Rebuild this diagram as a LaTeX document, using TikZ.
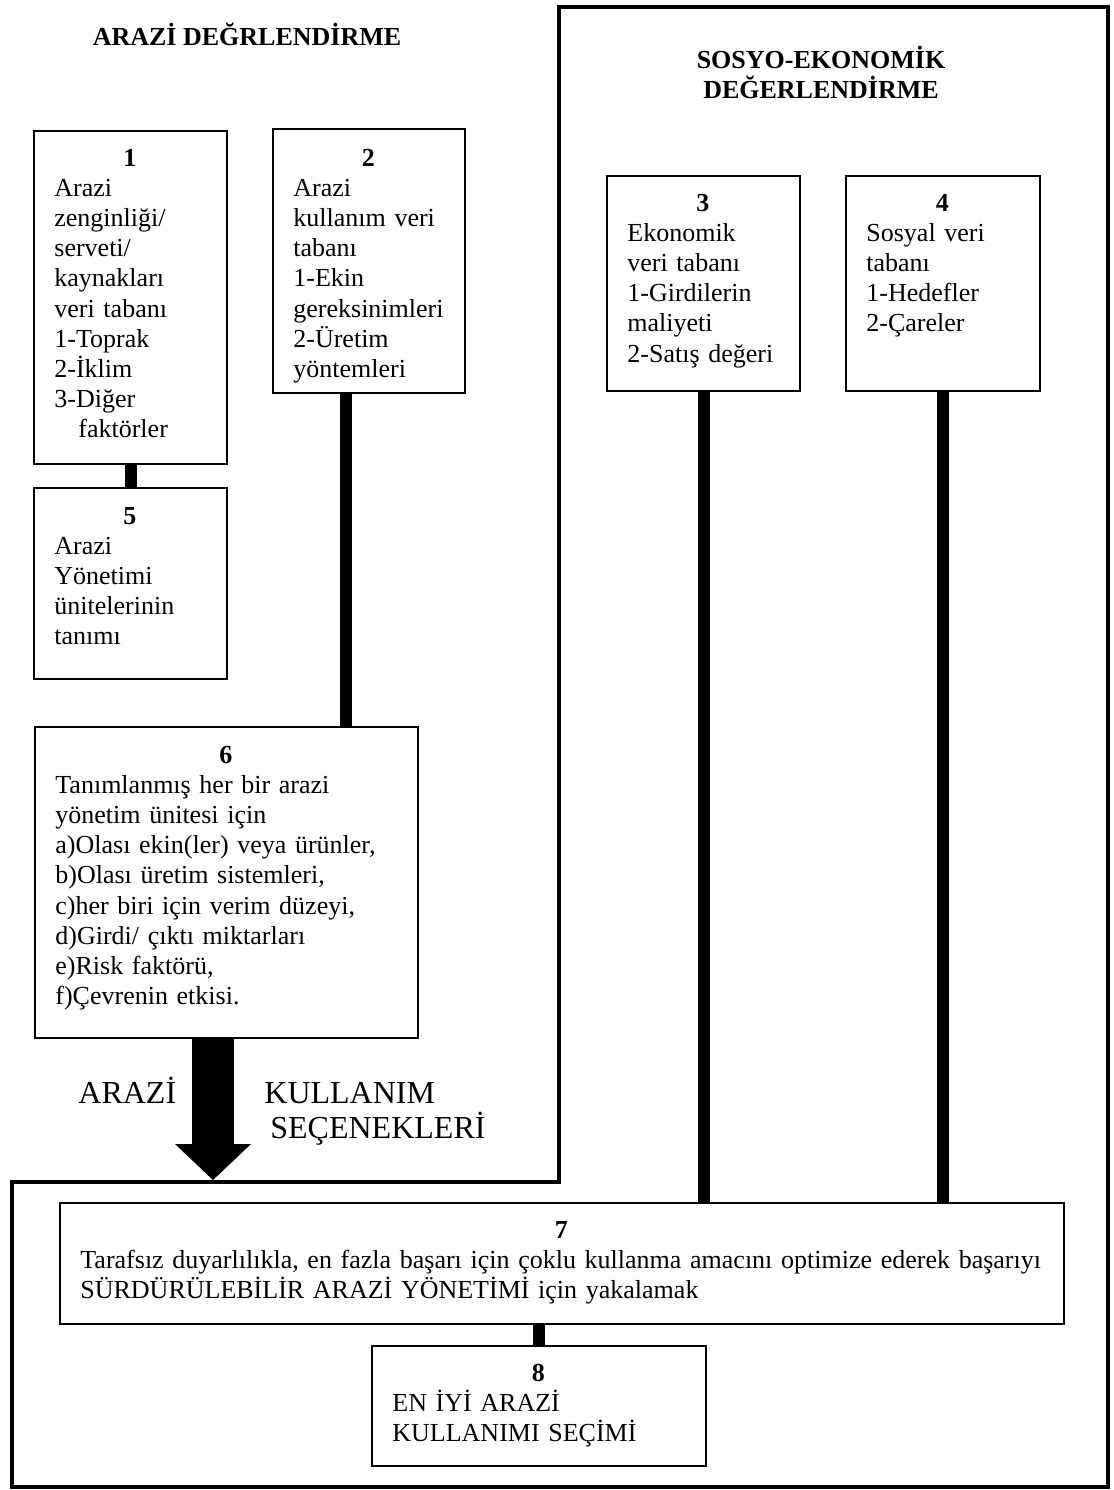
\documentclass[tikz,border=0pt]{standalone}
\usepackage{fontspec}
\setmainfont{Liberation Serif}
\usetikzlibrary{calc}
\usetikzlibrary{arrows.meta}

\begin{document}
\begin{tikzpicture} [x=.5pt, y=-.5pt,
  frame/.style={draw, line width=1.2pt, anchor=north west, inner sep=0pt},
  txt/.style={anchor=base west, inner sep=0pt, align=left, font=\fontsize{13}{15.1}\selectfont},
  ttl/.style={anchor=base, inner sep=0pt, align=center, font=\fontsize{13}{15}\selectfont\bfseries},
  lbl/.style={anchor=base west, inner sep=0pt, font=\fontsize{16}{17.5}\selectfont},
  link/.style={line width=6pt},
  bigarrow/.style={line width=21pt, -{Triangle[width=38pt, length=18pt, line width=0pt]}}]
\useasboundingbox (0,0) rectangle (1114,1490);

\draw[line width=2.4pt] (559,7) -- (1108,7) -- (1108,1487) -- (12,1487) -- (12,1182) -- (559,1182) -- cycle;

\node[ttl] (tarazi) at (247,45) {ARAZİ DEĞRLENDİRME};
\node[ttl, text width=150pt] (tsosyo) at (821,68) {SOSYO-EKONOMİK\\ DEĞERLENDİRME};

\node[frame, minimum width=96.5pt, minimum height=166.5pt] (b1) at (33,130) {};
\node[frame, minimum width=96pt, minimum height=132pt] (b2) at (272,128) {};
\node[frame, minimum width=96.5pt, minimum height=107.5pt] (b3) at (606,175) {};
\node[frame, minimum width=97pt, minimum height=107.5pt] (b4) at (845,175) {};
\node[frame, minimum width=96.5pt, minimum height=95.5pt] (b5) at (33,487) {};
\node[frame, minimum width=191.5pt, minimum height=155.5pt] (b6) at (34,726) {};
\node[frame, minimum width=502pt, minimum height=60.5pt] (b7) at (59,1202) {};
\node[frame, minimum width=167pt, minimum height=60pt] (b8) at (371,1345) {};

\node[txt, text width=75.5pt] (t1) at ([shift={(10.5pt,-18pt)}]b1.north west) {{\centering\bfseries 1\par}Arazi\\ zenginliği/\\ serveti/\\ kaynakları\\ veri tabanı\\ 1-Toprak\\ 2-İklim\\ 3-Diğer\\ \hspace*{12pt}faktörler};
\node[txt, text width=75pt] (t2) at ([shift={(10.5pt,-19pt)}]b2.north west) {{\centering\bfseries 2\par}Arazi\\ kullanım veri\\ tabanı\\ 1-Ekin\\ gereksinimleri\\ 2-Üretim\\ yöntemleri};
\node[txt, text width=75.5pt] (t3) at ([shift={(10.5pt,-18pt)}]b3.north west) {{\centering\bfseries 3\par}Ekonomik\\ veri tabanı\\ 1-Girdilerin\\ maliyeti\\ 2-Satış değeri};
\node[txt, text width=76pt] (t4) at ([shift={(10.5pt,-18pt)}]b4.north west) {{\centering\bfseries 4\par}Sosyal veri\\ tabanı\\ 1-Hedefler\\ 2-Çareler};
\node[txt, text width=75.5pt] (t5) at ([shift={(10.5pt,-18.5pt)}]b5.north west) {{\centering\bfseries 5\par}Arazi\\ Yönetimi\\ ünitelerinin\\ tanımı};
\node[txt, text width=170.5pt] (t6) at ([shift={(10.5pt,-18.5pt)}]b6.north west) {{\centering\bfseries 6\par}Tanımlanmış her bir arazi\\ yönetim ünitesi için\\ a)Olası ekin(ler) veya ürünler,\\ b)Olası üretim sistemleri,\\ c)her biri için verim düzeyi,\\ d)Girdi/ çıktı miktarları\\ e)Risk faktörü,\\ f)Çevrenin etkisi.};
\node[txt, text width=481pt] (t7) at ([shift={(10.5pt,-18pt)}]b7.north west) {{\centering\bfseries 7\par}\mbox{Tarafsız duyarlılıkla, en fazla başarı için çoklu kullanma amacını optimize ederek başarıyı}\\ SÜRDÜRÜLEBİLİR ARAZİ YÖNETİMİ için yakalamak};
\node[txt, text width=146pt] (t8) at ([shift={(10.5pt,-18pt)}]b8.north west) {{\centering\bfseries 8\par}EN İYİ ARAZİ\\ KULLANIMI SEÇİMİ};

\draw[link] (b1.south) -- (b5.north);
\coordinate (c2) at ([xshift=-11.5pt]b2.south);
\draw[link] (c2) -- (c2 |- b6.north);
\draw[link] (b3.south) -- (b3.south |- b7.north);
\draw[link] (b4.south) -- (b4.south |- b7.north);
\draw[link] (b8.north |- b7.south) -- (b8.north);

\coordinate (tip) at (213,1180);
\draw[bigarrow] (b6.south -| tip) -- (tip);

\node[lbl] (l1) at (78,1103) {ARAZİ};
\node[lbl] (l2) at (264,1103) {KULLANIM};
\node[lbl] (l3) at (270,1138) {SEÇENEKLERİ};
\end{tikzpicture}
\end{document}
